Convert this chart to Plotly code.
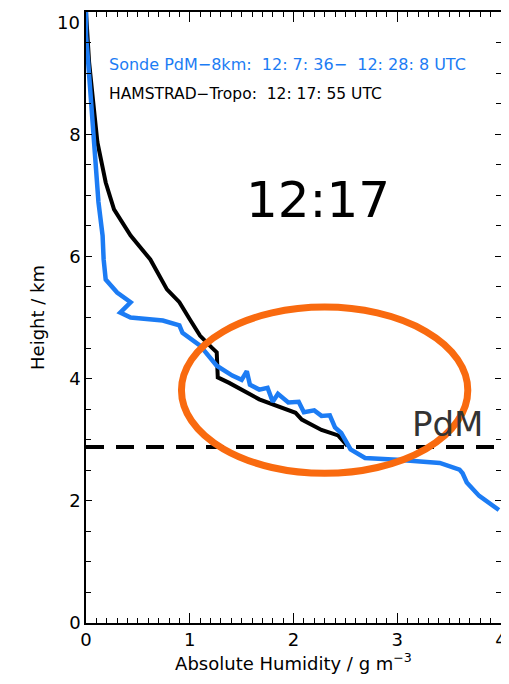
import plotly.graph_objects as go

# HAMSTRAD-Tropo profile (absolute humidity g/m3, height km)
ham_ah = [0.0, 0.03, 0.07, 0.11, 0.19, 0.27, 0.43, 0.62, 0.78, 0.90, 1.00, 1.10, 1.21, 1.26, 1.27, 1.38, 1.67, 2.02, 2.08, 2.27, 2.43, 2.52]
ham_h = [10.0, 9.18, 8.52, 7.87, 7.21, 6.77, 6.34, 5.95, 5.46, 5.25, 4.97, 4.70, 4.51, 4.43, 4.02, 3.93, 3.66, 3.44, 3.33, 3.16, 3.07, 2.90]

# Sonde PdM-8km profile
sonde_ah = [0.0, 0.0, 0.02, 0.05, 0.08, 0.10, 0.12, 0.16, 0.17, 0.19, 0.30, 0.43, 0.33, 0.43, 0.74, 0.90, 0.93, 1.10, 1.26, 1.41,
            1.50, 1.55, 1.58, 1.67, 1.75, 1.80, 1.85, 1.95, 2.05, 2.10, 2.20, 2.27, 2.35, 2.40, 2.46, 2.55, 2.69, 3.00, 3.41, 3.60,
            3.63, 3.67, 3.79, 3.98]
sonde_h = [10.0, 9.62, 9.20, 8.52, 7.87, 7.43, 6.89, 6.34, 5.95, 5.62, 5.41, 5.25, 5.08, 5.00, 4.95, 4.87, 4.75, 4.54, 4.21, 4.05,
           3.98, 4.12, 3.90, 3.82, 3.85, 3.62, 3.75, 3.61, 3.62, 3.45, 3.48, 3.39, 3.40, 3.20, 3.11, 2.84, 2.70, 2.67, 2.62, 2.51,
           2.45, 2.30, 2.08, 1.85]

pdm_height = 2.88
x_ticks = [0, 1, 2, 3, 4]
x_labels = ["0", "1", "2", "3", "4"]
y_ticks = [0, 2, 4, 6, 8, 10]
y_labels = ["0", "2", "4", "6", "8", ""]   # "10" is placed as an annotation just below the top edge
top_label = "10"

blue = "#1C7CF4"
orange = "#F96A0F"

fig = go.Figure()
fig.add_trace(go.Scatter(x=ham_ah, y=ham_h, mode="lines", line=dict(color="black", width=4), showlegend=False))
fig.add_trace(go.Scatter(x=sonde_ah, y=sonde_h, mode="lines", line=dict(color=blue, width=4.5), showlegend=False))
fig.add_trace(go.Scatter(x=[0, 4], y=[pdm_height, pdm_height], mode="lines",
                         line=dict(color="black", width=4, dash="18px,12px"), showlegend=False))

fig.add_shape(type="circle", xref="x", yref="y", x0=0.92, x1=3.68, y0=2.45, y1=5.17,
              line=dict(color=orange, width=7))

font = "DejaVu Sans"
fig.add_annotation(x=3.85, y=pdm_height + 0.02, text="PdM", showarrow=False, xanchor="right", yanchor="bottom",
                   font=dict(family=font, size=34, color="#333333"))
fig.add_annotation(x=2.24, y=6.92, text="12:17", showarrow=False,
                   font=dict(family=font, size=50, color="black"))
fig.add_annotation(x=0.2, y=9.14, text="Sonde PdM\u22128km:  12: 7: 36\u2212  12: 28: 8 UTC", showarrow=False,
                   xanchor="left", font=dict(family=font, size=16, color=blue))
fig.add_annotation(x=0.2, y=8.65, text="HAMSTRAD\u2212Tropo:  12: 17: 55 UTC", showarrow=False,
                   xanchor="left", font=dict(family=font, size=15.5, color="black"))
fig.add_annotation(xref="paper", yref="y", x=0, y=10, text=top_label, showarrow=False,
                   xanchor="right", yanchor="top", xshift=-4, yshift=2,
                   font=dict(family=font, size=18, color="black"))

axis_common = dict(showgrid=False, zeroline=False, showline=True, linecolor="black", linewidth=1.5,
                   mirror="ticks", ticks="inside", tickcolor="black",
                   tickfont=dict(family=font, size=18, color="black"))
fig.update_xaxes(range=[0, 4], tickvals=x_ticks, ticktext=x_labels, ticklen=10, tickwidth=1,
                 ticklabeloverflow="allow",
                 minor=dict(dtick=0.1, ticks="inside", ticklen=5, tickcolor="black"),
                 title=dict(text="Absolute Humidity / g m<sup>\u22123</sup>", font=dict(family=font, size=18, color="black"),
                            standoff=4),
                 **axis_common)
fig.update_yaxes(range=[0, 10], tickvals=y_ticks, ticktext=y_labels, ticklen=6, tickwidth=1,
                 minor=dict(dtick=0.5, ticks="inside", ticklen=5, tickcolor="black"),
                 title=dict(text="Height / km", font=dict(family=font, size=18, color="black"), standoff=20),
                 **axis_common)

# page body adds an 8px offset; size and margins compensate so the plot area sits at 86..504 x 10..623
fig.update_layout(width=501, height=676, margin=dict(l=78, r=5, t=2, b=61),
                  plot_bgcolor="white", paper_bgcolor="white")
fig.write_html("out.html")
